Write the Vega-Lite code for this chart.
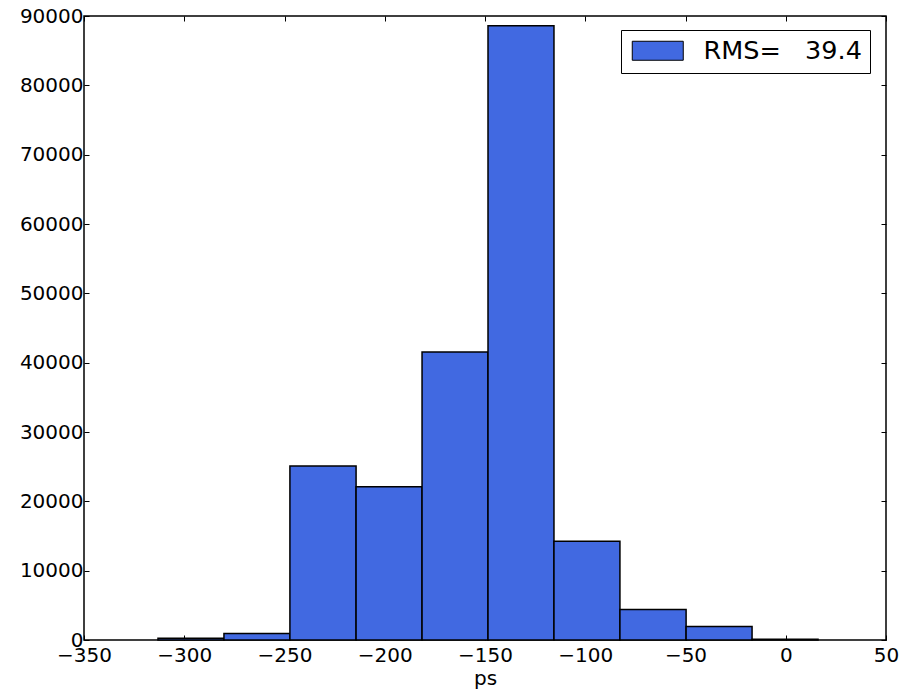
{
  "$schema": "https://vega.github.io/schema/vega-lite/v6.json",
  "autosize": "none",
  "padding": {"left": 84, "top": 16, "right": 19, "bottom": 49},
  "width": 802,
  "height": 624,
  "background": "white",
  "config": {
    "font": "DejaVu Sans",
    "view": {"stroke": "black", "strokeWidth": 1.5},
    "axis": {
      "grid": false,
      "domain": false,
      "tickColor": "black",
      "tickWidth": 1,
      "tickSize": -5,
      "labelFont": "DejaVu Sans",
      "labelFontSize": 20,
      "labelColor": "black",
      "titleFont": "DejaVu Sans",
      "titleFontSize": 20,
      "titleFontWeight": "normal",
      "titleColor": "black"
    }
  },
  "data": {
    "values": [
      {"bin_start": -313.1, "bin_end": -280.2, "count": 250},
      {"bin_start": -280.2, "bin_end": -247.3, "count": 950},
      {"bin_start": -247.3, "bin_end": -214.3, "count": 25100},
      {"bin_start": -214.3, "bin_end": -181.4, "count": 22100},
      {"bin_start": -181.4, "bin_end": -148.5, "count": 41550},
      {"bin_start": -148.5, "bin_end": -115.6, "count": 88600},
      {"bin_start": -115.6, "bin_end": -82.7, "count": 14250},
      {"bin_start": -82.7, "bin_end": -49.7, "count": 4400},
      {"bin_start": -49.7, "bin_end": -16.8, "count": 1950},
      {"bin_start": -16.8, "bin_end": 16.1, "count": 120}
    ]
  },
  "layer": [
    {
      "mark": {"type": "bar", "stroke": "black", "strokeWidth": 1.5, "opacity": 1},
      "encoding": {
        "x": {
          "field": "bin_start", "type": "quantitative",
          "scale": {"domain": [-350, 50], "nice": false, "zero": false},
          "axis": {"orient": "bottom", "values": [-350, -300, -250, -200, -150, -100, -50, 0, 50], "labelPadding": 10, "title": "ps", "titlePadding": 3, "labelFlush": false}
        },
        "x2": {"field": "bin_end"},
        "y": {
          "field": "count", "type": "quantitative",
          "scale": {"domain": [0, 90000], "nice": false},
          "axis": {"orient": "left", "values": [0, 10000, 20000, 30000, 40000, 50000, 60000, 70000, 80000, 90000], "format": "d", "labelPadding": 6, "title": null, "labelFlush": false}
        },
        "y2": {"datum": 0},
        "color": {
          "datum": "RMS=\u00a0\u00a0\u00a039.4",
          "type": "nominal",
          "scale": {"range": ["#4169E1"]},
          "legend": {
            "title": null,
            "orient": "none",
            "legendX": 537,
            "legendY": 14,
            "symbolType": "M-1,-1H4.37V1H-1Z",
            "symbolSize": 361,
            "symbolStrokeColor": "black",
            "symbolStrokeWidth": 1,
            "symbolOpacity": 1,
            "labelFont": "DejaVu Sans",
            "labelFontSize": 25.5,
            "labelColor": "black",
            "labelOffset": 49,
            "labelLimit": 400,
            "strokeColor": "black",
            "fillColor": "white",
            "padding": 8
          }
        }
      }
    },
    {
      "mark": {"type": "point", "opacity": 0},
      "encoding": {
        "x": {
          "field": "bin_start", "type": "quantitative",
          "axis": {"orient": "top", "values": [-350, -300, -250, -200, -150, -100, -50, 0, 50], "labels": false, "title": null}
        },
        "y": {
          "field": "count", "type": "quantitative",
          "axis": {"orient": "right", "values": [0, 10000, 20000, 30000, 40000, 50000, 60000, 70000, 80000, 90000], "labels": false, "title": null}
        }
      }
    }
  ],
  "resolve": {"axis": {"x": "independent", "y": "independent"}}
}
